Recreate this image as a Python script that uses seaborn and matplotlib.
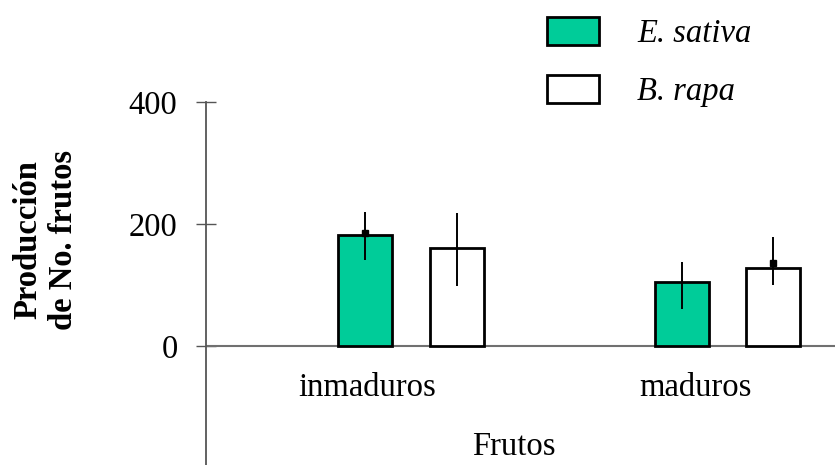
import matplotlib
matplotlib.use("Agg")
import matplotlib.pyplot as plt
from matplotlib.patches import Patch
import seaborn as sns
import pandas as pd
import numpy as np

# Fruit production by maturity stage and species
categorias = ["inmaduros", "maduros"]
especies = ["E. sativa", "B. rapa"]
produccion_sativa = [182, 105]
produccion_rapa = [161, 128]
err_inf_sativa = [41, 44]
err_sup_sativa = [38, 33]
err_inf_rapa = [63, 28]
err_sup_rapa = [57, 51]
media_sativa = [185, np.nan]
media_rapa = [np.nan, 136]
yticks = [0, 200, 400]

colores = {"E. sativa": "#00CC99", "B. rapa": "#FFFFFF"}

df = pd.DataFrame({
    "Frutos": categorias * 2,
    "especie": [especies[0]] * 2 + [especies[1]] * 2,
    "valor": produccion_sativa + produccion_rapa,
})

sns.set_theme(style="white")
plt.rcParams["font.family"] = ["Liberation Serif", "DejaVu Serif"]
plt.rcParams["text.color"] = "black"
plt.rcParams["ytick.labelcolor"] = "black"
FS = 23.5

fig = plt.figure(figsize=(8.35, 4.65), dpi=100)
ax = fig.add_axes([0.2467, 0.0, 0.7533, 0.7806])

sns.barplot(data=df, x="Frutos", y="valor", hue="especie", order=categorias,
            hue_order=especies, palette=colores, saturation=1,
            edgecolor="black", linewidth=2, errorbar=None, width=0.578,
            gap=0.41, legend=False, ax=ax, zorder=2)

errores = {
    especies[0]: (produccion_sativa, err_inf_sativa, err_sup_sativa, media_sativa),
    especies[1]: (produccion_rapa, err_inf_rapa, err_sup_rapa, media_rapa),
}
for cont, esp in zip(ax.containers, especies):
    vals, lo, hi, medias = errores[esp]
    xs = [b.get_x() + b.get_width() / 2 for b in cont]
    ax.errorbar(xs, vals, yerr=[lo, hi], fmt="none", ecolor="black",
                elinewidth=1.4, capsize=0, zorder=4)
    ax.plot(xs, medias, "s", color="black", ms=4.5, zorder=5)

ax.set_xlim(-0.648, 1.34)
ax.set_ylim(-195, 400)
ax.axhline(0, color="#707070", lw=1.5, zorder=1)

for s in ["top", "right", "bottom"]:
    ax.spines[s].set_visible(False)
ax.spines["left"].set_color("#555555")
ax.spines["left"].set_linewidth(1.3)

ax.set_yticks(yticks)
ax.set_yticklabels([str(t) for t in yticks])
ax.tick_params(axis="y", direction="inout", length=15, width=1.0,
               color="#555555", labelcolor="black", labelsize=FS, pad=13,
               left=True)
ax.set_xticks([])
ax.set_xlabel("")
ax.set_ylabel("")

# category labels below the zero line
desplaz = [-0.14, -0.10]
for i, (cat, d) in enumerate(zip(categorias, desplaz)):
    ax.text(i + d, -69, cat, ha="center", va="center", fontsize=FS,
            color="black")
ax.text(0.325, -165, "Frutos", ha="center", va="center", fontsize=FS,
        color="black")

fig.text(0.055, 1 - 240 / 465, "Producción\nde No. frutos", rotation=90,
         ha="center", va="center", fontsize=FS, fontweight="bold",
         multialignment="center", linespacing=1.2, color="black")

handles = [Patch(facecolor=colores[e], edgecolor="black", linewidth=2)
           for e in especies]
leg = fig.legend(handles, especies, loc="upper left",
                 bbox_to_anchor=(0.628, 1.012), frameon=False,
                 prop={"size": FS, "style": "italic"},
                 handlelength=1.6, handleheight=0.92, handletextpad=1.15,
                 labelspacing=0.8, borderaxespad=0.3, labelcolor="black")

fig.savefig("out.png", dpi=100)
